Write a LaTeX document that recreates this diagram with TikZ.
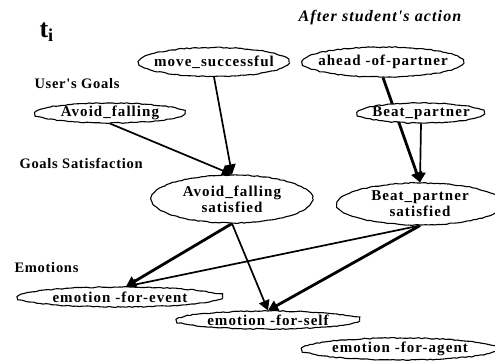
\documentclass[tikz,border=0pt]{standalone}
\usepackage{fontspec}
\setmainfont{Liberation Serif}
\newfontfamily\netfont[LetterSpace=7]{Liberation Serif}
\newfontfamily\lblfont[LetterSpace=5]{Liberation Serif}
\usetikzlibrary{shapes.geometric,arrows.meta,decorations.pathmorphing}
\pgfdeclarelayer{background}
\pgfsetlayers{background,main}
\tikzset{
  varnode/.style={ellipse, draw, fill=white, line width=1.1pt,
    inner xsep=-25pt, inner ysep=-8pt,
    align=center, font=\netfont\bfseries\fontsize{15}{16}\selectfont,
    decorate, decoration={random steps, segment length=3pt, amplitude=0.5pt}},
  rowlabel/.style={anchor=west, font=\lblfont\bfseries\fontsize{14.5}{16}\selectfont},
  link/.style={->, line width=1.7pt},
  strong/.style={->, line width=2.8pt}
}

\begin{document}
\pgfmathsetseed{7}
\begin{tikzpicture}[x=1pt, y=-1pt, >={Triangle[length=10pt,width=11pt]}]
  \useasboundingbox (0,0) rectangle (495,360);
  % ---- headings ----
  \node[anchor=west, font=\bfseries\fontsize{26}{28}\selectfont] (time) at (36,32) {t\textsubscript{i}};
  \node[font=\netfont\bfseries\itshape\fontsize{16}{18}\selectfont] (phase) at (380,18) {After student's action};
  % ---- row labels ----
  \node[rowlabel] (goalslbl) at (31,84) {User's Goals};
  \node[rowlabel] (satlbl) at (16,163) {Goals Satisfaction};
  \node[rowlabel] (emolbl) at (11,268) {Emotions};
  % ---- observed events ----
  \node[varnode, minimum width=150, minimum height=29] (move) at (214,62) {move\_successful};
  \node[varnode, minimum width=161, minimum height=30] (ahead) at (383,62) {ahead -of-partner};
  % ---- goals ----
  \node[varnode, minimum width=150, minimum height=20] (avoid) at (110,113) {Avoid\_falling};
  \node[varnode, minimum width=127, minimum height=20] (beat) at (421,113) {Beat\_partner};
  % ---- goal satisfaction ----
  \node[varnode, minimum width=161, minimum height=48] (avoidsat) at (232,199) {Avoid\_falling\\satisfied};
  \node[varnode, minimum width=166, minimum height=42] (beatsat) at (420,204) {Beat\_partner\\satisfied};
  % ---- emotions ----
  \node[varnode, minimum width=205, minimum height=20] (event) at (120,297) {emotion -for-event};
  \node[varnode, minimum width=183, minimum height=18] (self) at (268,320) {emotion -for-self};
  \node[varnode, minimum width=196, minimum height=22] (agent) at (400,349) {emotion -for-agent};
  % ---- links ----
  \begin{pgfonlayer}{background}
    \draw[link] (avoid.south) -- (avoidsat.north);
    \draw[link] (move.south) -- (avoidsat.north);
    \draw[strong] (ahead.south) -- (beatsat.north);
    \draw[link] (beat.south) -- (beatsat.north);
    \draw[strong] (avoidsat.south) -- ([xshift=6]event.north);
    \draw[link] (avoidsat.south) -- (self.north);
    \draw[link] (beatsat.south) -- ([xshift=6]event.north);
    \draw[strong] (beatsat.south) -- (self.north);
  \end{pgfonlayer}
\end{tikzpicture}
\end{document}
